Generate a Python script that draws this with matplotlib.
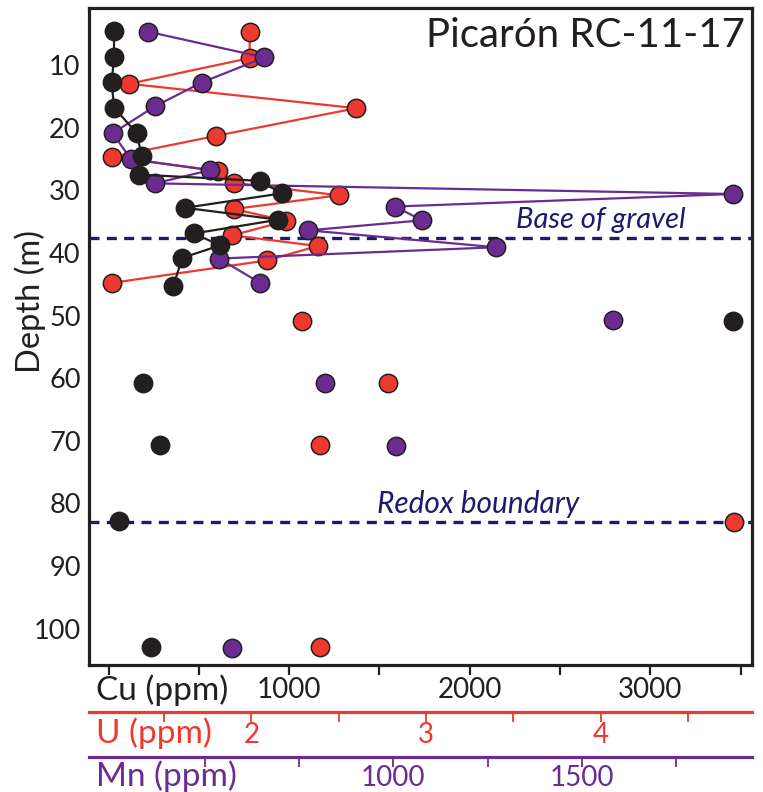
import matplotlib
matplotlib.use("Agg")
import matplotlib.pyplot as plt

plt.rcParams['font.family'] = ['Lato', 'DejaVu Sans']

# ---------------- data ----------------
# Connected profile (gravel section)
cu_depth = [4.5, 8.8, 12.7, 16.8, 20.9, 24.5, 27.5, 28.5, 30.5, 32.8, 34.7, 36.9, 38.8, 40.8, 45.3]
cu_ppm   = [30, 30, 17, 30, 156, 183, 170, 838, 958, 423, 940, 473, 617, 408, 358]

u_depth = [4.8, 8.9, 13.0, 16.9, 21.3, 24.7, 26.9, 28.8, 30.8, 33.0, 34.9, 37.2, 38.9, 41.2, 44.8]
u_ppm   = [1.99, 1.99, 1.30, 2.60, 1.80, 1.20, 1.81, 1.90, 2.50, 1.90, 2.20, 1.89, 2.38, 2.09, 1.20]

mn_depth = [4.7, 8.8, 12.8, 16.6, 20.9, 25.0, 26.8, 28.9, 30.6, 32.6, 34.8, 36.4, 39.1, 40.9, 44.8]
mn_ppm   = [351, 658, 492, 368, 256, 304, 514, 368, 1900, 1004, 1076, 775, 1272, 538, 647]

# Deeper isolated samples
cu_deep_depth = [50.9, 60.8, 70.7, 82.8, 103.0]
cu_deep_ppm   = [3457, 190, 285, 58, 235]
u_deep_depth  = [50.9, 60.8, 70.7, 83.0, 103.0]
u_deep_ppm    = [2.29, 2.78, 2.39, 4.76, 2.39]
mn_deep_depth = [50.7, 60.8, 70.9, 103.1]
mn_deep_ppm   = [1582, 819, 1007, 572]

depth_ticks = [10, 20, 30, 40, 50, 60, 70, 80, 90, 100]
cu_ticks = [0, 500, 1000, 1500, 2000, 2500, 3000, 3500]
cu_labels = ['', '', '1000', '', '2000', '', '3000', '']
u_ticks = [1.5, 2.0, 2.5, 3.0, 3.5, 4.0, 4.5]
u_labels = ['', '2', '', '3', '', '4', '']
mn_ticks = [500, 750, 1000, 1250, 1500, 1750]
mn_labels = ['', '', '1000', '', '1500', '']

base_gravel = 37.6
redox = 83.0

# ---------------- style ----------------
BLACK = '#231f20'
RED = '#ee3a2e'
PURPLE = '#6a2c91'
NAVY = '#1f1a6b'

W, H = 763, 792
fig = plt.figure(figsize=(W / 100, H / 100), dpi=100)
pos = [89 / W, 1 - 665 / H, (751.5 - 89) / W, (665 - 8) / H]

axU = fig.add_axes(pos)
axMn = fig.add_axes(pos, sharey=axU)
axCu = fig.add_axes(pos, sharey=axU)
axMn.patch.set_visible(False)
axCu.patch.set_visible(False)

axU.set_ylim(105.8, 0.9)
axCu.set_xlim(-108.5, 3560)
axU.set_xlim(1.0704, 4.8626)
axMn.set_xlim(193.4, 1948.9)

ms = 13.2
mew = 1.1
# U (red)
axU.plot(u_ppm, u_depth, color=RED, lw=1.6, marker='o', ms=ms, mfc=RED, mec=BLACK, mew=mew, zorder=3)
axU.plot(u_deep_ppm, u_deep_depth, ls='none', marker='o', ms=ms, mfc=RED, mec=BLACK, mew=mew, zorder=3)
# Mn (purple)
axMn.plot(mn_ppm, mn_depth, color=PURPLE, lw=1.6, marker='o', ms=ms, mfc=PURPLE, mec=BLACK, mew=mew, zorder=3)
axMn.plot(mn_deep_ppm, mn_deep_depth, ls='none', marker='o', ms=ms, mfc=PURPLE, mec=BLACK, mew=mew, zorder=3)
# Cu (black)
axCu.plot(cu_ppm, cu_depth, color=BLACK, lw=1.6, marker='o', ms=ms, mfc=BLACK, mec=BLACK, mew=mew, zorder=3)
axCu.plot(cu_deep_ppm, cu_deep_depth, ls='none', marker='o', ms=ms, mfc=BLACK, mec=BLACK, mew=mew, zorder=3)

# boundaries
for yb in (base_gravel, redox):
    axU.axhline(yb, color=NAVY, lw=2.4, ls=(0, (3.0, 2.2)), zorder=1)
axU.text(0.645, base_gravel - 0.7, 'Base of gravel', transform=axU.get_yaxis_transform(),
         color=NAVY, fontsize=21, style='italic', ha='left', va='bottom')
axU.text(0.434, redox - 0.7, 'Redox boundary', transform=axU.get_yaxis_transform(),
         color=NAVY, fontsize=21.5, style='italic', ha='left', va='bottom')

# title
axCu.text((745 - 89) / 662.5, (665 - 47.3) / 657, 'Picarón RC-11-17', transform=axCu.transAxes,
          ha='right', va='baseline', fontsize=29, color=BLACK)

# y axis
for a in (axU, axMn):
    a.tick_params(axis='y', left=False, labelleft=False)
axCu.set_yticks(depth_ticks)
axCu.tick_params(axis='y', length=0, pad=6, labelsize=19.5, labelcolor=BLACK)
fig.text(30 / W, 1 - 302 / H, 'Depth (m)', rotation=90, ha='center', va='center', fontsize=23.5, color=BLACK)

# Cu axis (main frame)
for s in axCu.spines.values():
    s.set_linewidth(2.3)
    s.set_color(BLACK)
axCu.set_xticks(cu_ticks, cu_labels)
axCu.tick_params(axis='x', direction='out', length=7.5, width=1.6, color=BLACK, pad=1,
                 labelsize=20, labelcolor=BLACK)

# U axis
for k in ('top', 'left', 'right'):
    axU.spines[k].set_visible(False)
    axMn.spines[k].set_visible(False)
axU.spines['bottom'].set_position(('outward', 34))
axU.spines['bottom'].set_color(RED)
axU.spines['bottom'].set_linewidth(2.3)
axU.set_xticks(u_ticks, u_labels)
axU.tick_params(axis='x', direction='out', length=7, width=1.3, color=RED, pad=0,
                labelsize=20, labelcolor=RED)

# Mn axis
axMn.spines['bottom'].set_position(('outward', 66))
axMn.spines['bottom'].set_color(PURPLE)
axMn.spines['bottom'].set_linewidth(2.3)
axMn.set_xticks(mn_ticks, mn_labels)
axMn.tick_params(axis='x', direction='out', length=7, width=1.3, color=PURPLE, pad=-1,
                 labelsize=20, labelcolor=PURPLE)

# axis names written where the first labels sit
fig.text(96 / W, 1 - 690 / H, 'Cu (ppm)', ha='left', va='center', fontsize=24, color=BLACK)
fig.text(96 / W, 1 - 733 / H, 'U (ppm)', ha='left', va='center', fontsize=24, color=RED)
fig.text(96 / W, 1 - 776 / H, 'Mn (ppm)', ha='left', va='center', fontsize=24, color=PURPLE)

fig.savefig('out.png', dpi=100)
